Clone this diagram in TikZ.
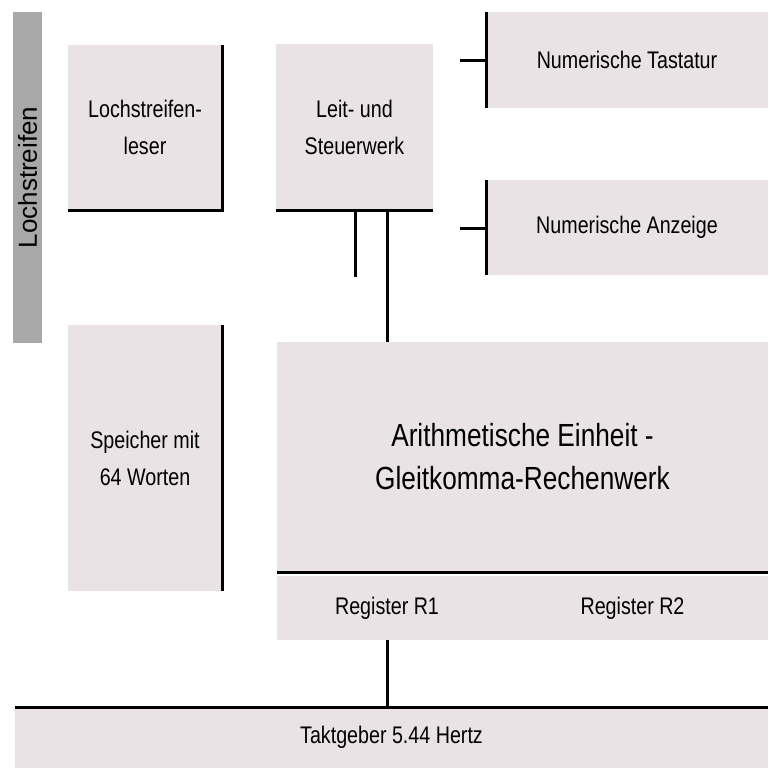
\documentclass[tikz,border=0pt]{standalone}
\usepackage{fontspec}
\setmainfont{Liberation Sans}
\newfontfamily\narrowfont[FakeStretch=0.82]{Liberation Sans}
\definecolor{boxgray}{RGB}{233,227,229}
\definecolor{bandgray}{RGB}{168,168,168}
\begin{document}
\begin{tikzpicture}[x=1pt, y=-1pt,
    box/.style={fill=boxgray, inner sep=0pt, outer sep=0pt, align=center,
        font=\narrowfont\fontsize{24}{37}\selectfont},
    bus/.style={line width=3pt}]
    \useasboundingbox (0,0) rectangle (768,770);
    \node [box, fill=bandgray, rotate=90, minimum width=331pt, minimum height=29pt, font=\fontsize{26}{30}\selectfont] (band) at (27.5,177.5) {Lochstreifen};
    \node [box, minimum width=154pt, minimum height=165pt] (leser) at (145,127.5) {Lochstreifen-\\leser};
    \node [box, minimum width=157pt, minimum height=166pt] (leit) at (354.5,127) {Leit- und\\Steuerwerk};
    \node [box, minimum width=282pt, minimum height=96pt] (tast) at (627,60) {Numerische Tastatur};
    \node [box, minimum width=282pt, minimum height=95pt] (anz) at (627,227.5) {Numerische Anzeige};
    \node [box, minimum width=154pt, minimum height=266pt] (speicher) at (145,458) {Speicher mit\\64 Worten};
    \node [box, minimum width=491pt, minimum height=230pt, font=\narrowfont\fontsize{32}{43}\selectfont] (arith) at (522.5,457) {Arithmetische Einheit -\\Gleitkomma-Rechenwerk};
    \node [box, minimum width=220pt, minimum height=64pt] (reg1) at (387,608) {Register R1};
    \node [box, minimum width=271pt, minimum height=64pt] (reg2) at (632.5,608) {Register R2};
    \node [box, minimum width=753pt, minimum height=61pt] (takt) at (391.5,737.5) {Taktgeber 5.44 Hertz};
    \coordinate (leitend) at (355,277);
    \coordinate (taststub) at (460,61);
    \coordinate (anzstub) at (460,228);
    \draw [bus] (leser.north east) -- (leser.south east) -- (leser.south west);
    \draw [bus] (leit.south west) -- (leit.south east);
    \draw [bus] (leitend |- leit.south) -- (leitend);
    \draw [bus] (reg1 |- leit.south) -- (reg1 |- arith.north);
    \draw [bus] (tast.north west) -- (tast.south west);
    \draw [bus] (taststub) -- (taststub -| tast.west);
    \draw [bus] (anz.north west) -- (anz.south west);
    \draw [bus] (anzstub) -- (anzstub -| anz.west);
    \draw [bus] (speicher.north east) -- (speicher.south east);
    \draw [bus] (arith.south west) -- (arith.south east);
    \draw [bus] (reg1.south) -- (reg1 |- takt.north);
    \draw [bus] (takt.north west) -- (takt.north east);
\end{tikzpicture}
\end{document}
